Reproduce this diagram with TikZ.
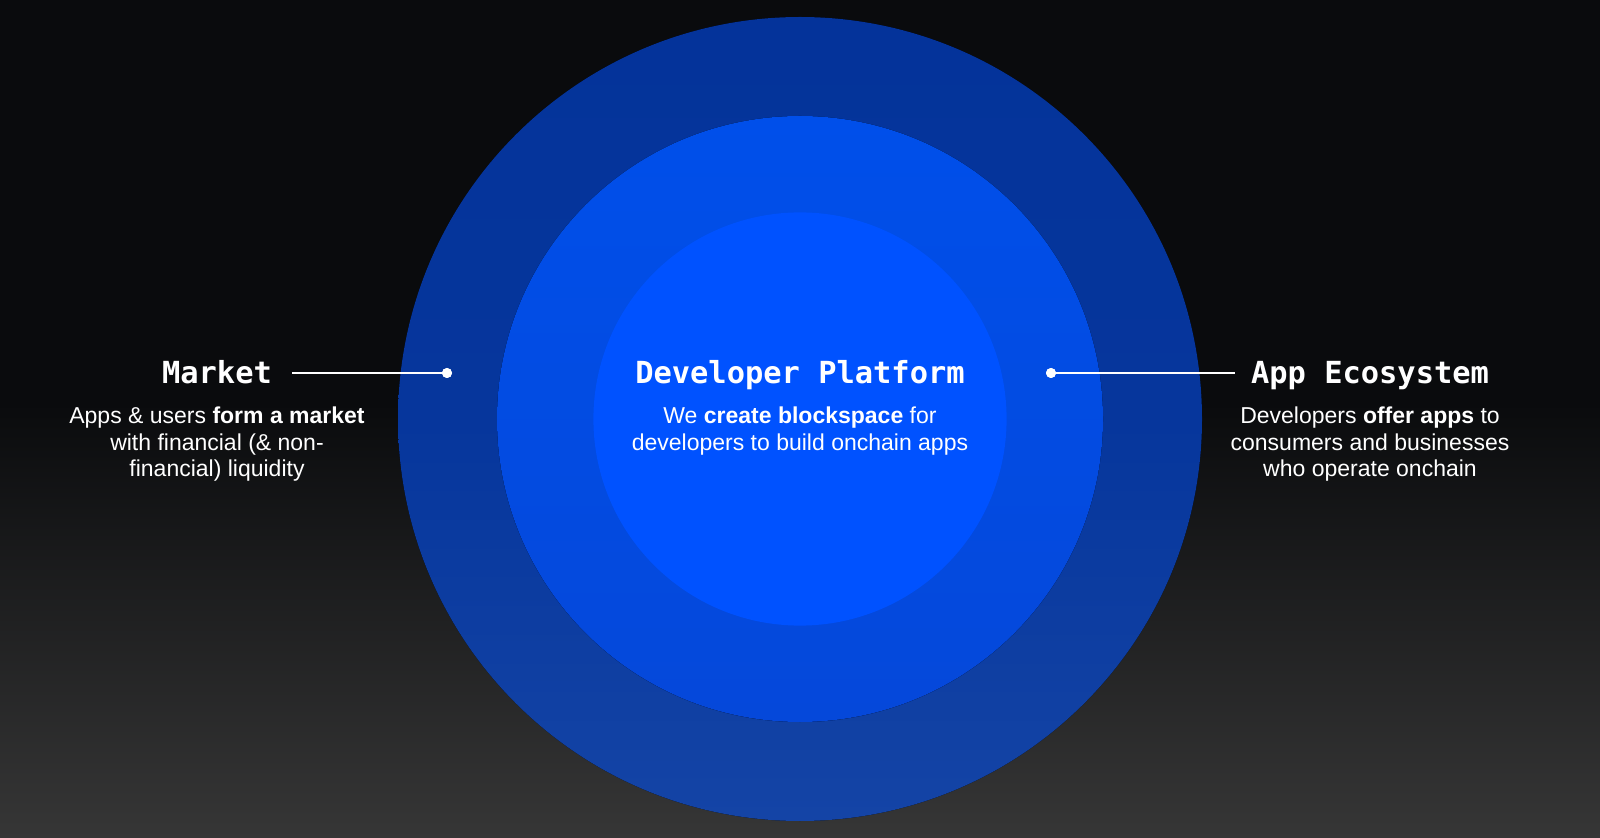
\documentclass[tikz,border=0pt]{standalone}
\usepackage{fontspec}
\setmainfont{Liberation Sans}
\newfontfamily\monofam{DejaVu Sans Mono}
\definecolor{bgT}{HTML}{0A0B0D}
\definecolor{bgB}{HTML}{363636}
\definecolor{outT}{HTML}{04339A}
\definecolor{outM}{HTML}{06369C}
\definecolor{outB}{HTML}{1444A6}
\definecolor{midT}{HTML}{004FEA}
\definecolor{midB}{HTML}{0548DA}
\definecolor{innC}{HTML}{0052FF}
\pgfdeclareverticalshading{bgshade}{100bp}{color(0bp)=(bgB); color(25bp)=(bgB); color(51bp)=(bgT); color(75bp)=(bgT); color(100bp)=(bgT)}
\pgfdeclareverticalshading{outshade}{100bp}{color(0bp)=(outB); color(25bp)=(outB); color(50bp)=(outM); color(75bp)=(outT); color(100bp)=(outT)}
\pgfdeclareverticalshading{midshade}{100bp}{color(0bp)=(midB); color(25bp)=(midB); color(75bp)=(midT); color(100bp)=(midT)}
\tikzset{
  titletext/.style={text=white, font=\monofam\bfseries\fontsize{15.2}{18}\selectfont, anchor=base, inner sep=0pt},
  bodytext/.style={text=white, font=\fontsize{11.5}{13.15}\selectfont, align=center, anchor=base, inner sep=0pt},
  connector/.style={draw=white, line width=1.35pt},
  dotstyle/.style={circle, fill=white, inner sep=0pt, minimum size=5pt}
}
\begin{document}
\begin{tikzpicture}[x=0.5pt,y=-0.5pt]
\useasboundingbox (0,0) rectangle (1600,838);
\fill[shading=bgshade] (0,0) rectangle (1600,838);
% rings
\fill[shading=outshade] (800,419) circle[radius=201pt];
\fill[shading=midshade] (800,419) circle[radius=151.5pt];
\fill[innC] (800,419) circle[radius=103.3pt];
% titles
\node[titletext] (mkt) at (217,384) {Market};
\node[titletext] (dev) at (800,384) {Developer Platform};
\node[titletext] (eco) at (1370,384) {App Ecosystem};
% bodies (base anchor = baseline of the last line)
\node[bodytext] (mktb) at (217,476.5) {Apps \& users \textbf{form a market}\\with financial (\& non-\\financial) liquidity};
\node[bodytext] (devb) at (800,450.2) {We \textbf{create blockspace} for\\developers to build onchain apps};
\node[bodytext] (ecob) at (1370,476.5) {Developers \textbf{offer apps} to\\consumers and businesses\\who operate onchain};
% connectors
\coordinate (lstart) at (292,373);
\node[dotstyle] (ldot) at (447,373) {};
\coordinate (rend) at (1235,373);
\node[dotstyle] (rdot) at (1051,373) {};
\draw[connector] (lstart) -- (ldot.center);
\draw[connector] (rdot.center) -- (rend);
\node[dotstyle] at (ldot) {};
\node[dotstyle] at (rdot) {};
\end{tikzpicture}
\end{document}
